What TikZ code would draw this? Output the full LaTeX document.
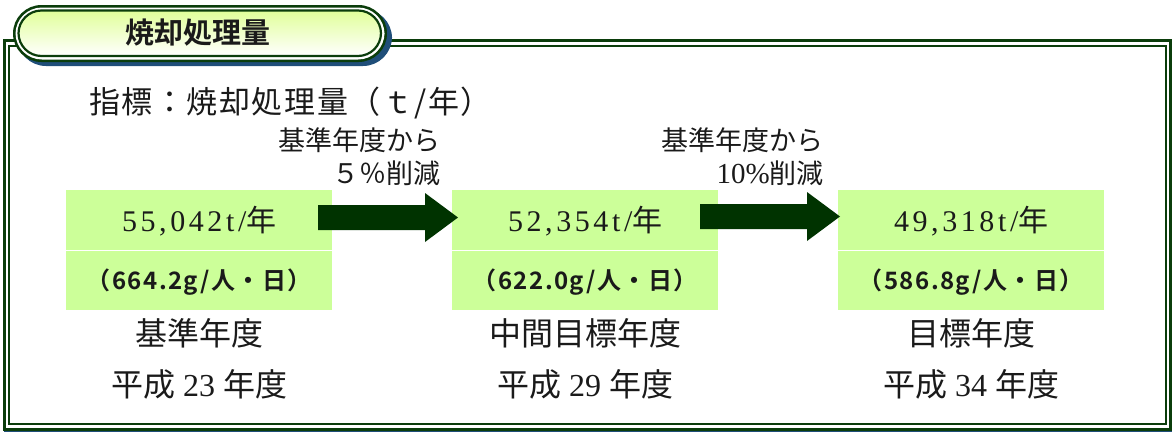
\documentclass[tikz,border=0pt]{standalone}
\usepackage{fontspec}
\setmainfont{Liberation Serif}
\newfontfamily\jp{Noto Sans CJK JP}
\newfontfamily\jpb{Noto Sans CJK JP}[UprightFont=* Bold]
\definecolor{dkgreen}{HTML}{0B3D0B}
\definecolor{arrowgreen}{HTML}{003300}
\definecolor{boxgreen}{HTML}{CCFF99}
\definecolor{navy}{HTML}{1F4E79}
\definecolor{txt}{HTML}{1A1A1A}
\tikzset{
  valbox/.style={fill=boxgreen, draw=none, minimum width=266, minimum height=60, inner sep=0, anchor=north west},
  perbox/.style={fill=boxgreen, draw=none, minimum width=266, minimum height=59, inner sep=0, anchor=north west},
  blockarrow/.style={fill=arrowgreen, draw=none},
  lbl/.style={inner sep=0, text=txt},
}
\begin{document}
\begin{tikzpicture}[x=1pt,y=-1pt]
\useasboundingbox (0,0) rectangle (1173,432);
% outer frame
\draw[dkgreen, line width=3] (4,40) rectangle (1170,429);
\draw[dkgreen, line width=2] (9,46) rectangle (1166,424);
\draw[navy, line width=1.2] (4,431.2) -- (1172,431.2);
% title pill
\fill[navy, rounded corners=29] (17,9) rectangle (392,66);
\fill[dkgreen, rounded corners=28.5] (13,5) rectangle (387,62);
\fill[white, rounded corners=26.5] (15.5,7.5) rectangle (384.5,59.5);
\shade[top color=green!30!yellow!40, bottom color=white, rounded corners=23, draw=dkgreen, line width=2.2] (18.5,10.5) rectangle (381,56);
\node[lbl, font=\jpb\fontsize{29}{29}\selectfont] (title) at (198,33) {焼却処理量};
% heading
\node[lbl, anchor=west, font=\jp\fontsize{31}{31}\selectfont\addfontfeature{LetterSpace=5}] (head) at (89,103) {指標：焼却処理量（ｔ/年）};
% boxes
\node[valbox] (v1) at (66,190) {};
\node[perbox] (p1) at (66,251) {};
\node[valbox] (v2) at (452,190) {};
\node[perbox] (p2) at (452,251) {};
\node[valbox] (v3) at (838,190) {};
\node[perbox] (p3) at (838,251) {};
\foreach \n/\v/\p in {1/{55,042}/664.2, 2/{52,354}/622.0, 3/{49,318}/586.8}{
  \node[lbl, font=\fontsize{30}{30}\selectfont\addfontfeature{LetterSpace=12}] at ([yshift=-1]v\n.center) {\v t/{\jp\addfontfeature{LetterSpace=0}年}};
  \node[lbl, font=\jpb\fontsize{24}{24}\selectfont\addfontfeature{LetterSpace=6}] at ([yshift=-1]p\n.center) {（\p g/人・日）};
}
% arrows
\coordinate (a1) at (318,205);
\coordinate (a2) at (700,204);
\foreach \a in {a1,a2}{
  \fill[blockarrow] (\a) -- ++(107,0) -- ++(0,-12) -- ++(33,24.5) -- ++(-33,24.5) -- ++(0,-12) -- ++(-107,0) -- cycle;
}
% arrow labels
\node[lbl, anchor=east, font=\jp\fontsize{27}{27}\selectfont] (r1a) at (441,140) {基準年度から};
\node[lbl, anchor=east, font=\jp\fontsize{27}{27}\selectfont] (r1b) at (441,173) {５％削減};
\node[lbl, anchor=east, font=\fontsize{29}{29}\selectfont] (r2a) at (824,140) {{\jp\fontsize{27}{27}\selectfont 基準年度から}};
\node[lbl, anchor=east, font=\fontsize{29}{29}\selectfont] (r2b) at (824,173) {10\%{\jp\fontsize{27}{27}\selectfont 削減}};
% year labels
\node[lbl, font=\jp\fontsize{32}{32}\selectfont] (y1a) at (199,333) {基準年度};
\node[lbl, font=\jp\fontsize{32}{32}\selectfont] (y2a) at (585,333) {中間目標年度};
\node[lbl, font=\jp\fontsize{32}{32}\selectfont] (y3a) at (971,333) {目標年度};
\node[lbl, font=\fontsize{32}{32}\selectfont] (y1b) at (199,384) {{\jp 平成} 23 {\jp 年度}};
\node[lbl, font=\fontsize{32}{32}\selectfont] (y2b) at (585,384) {{\jp 平成} 29 {\jp 年度}};
\node[lbl, font=\fontsize{32}{32}\selectfont] (y3b) at (971,384) {{\jp 平成} 34 {\jp 年度}};
\end{tikzpicture}
\end{document}
